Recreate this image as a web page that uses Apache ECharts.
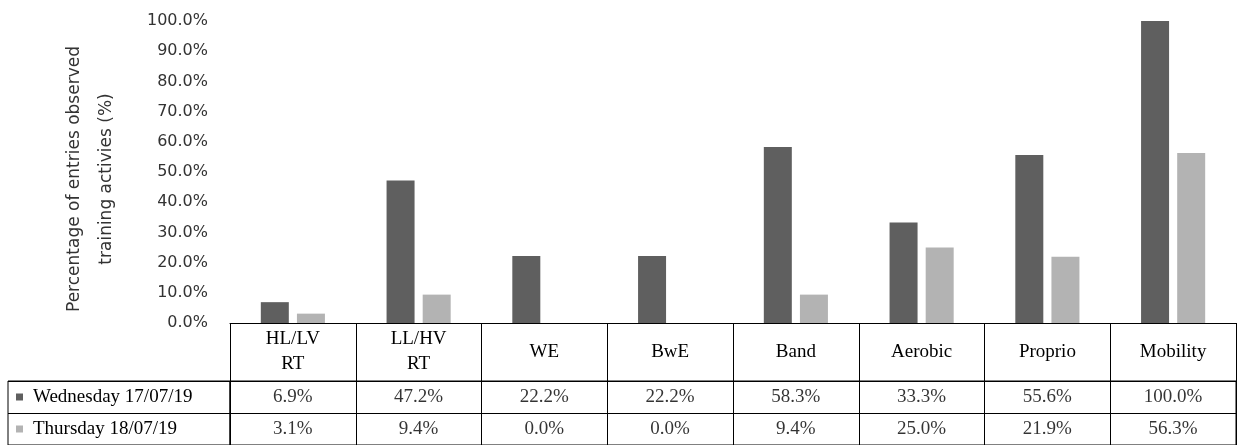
<!DOCTYPE html>
<html>
<head>
<meta charset="utf-8">
<script src="https://cdn.jsdelivr.net/npm/echarts@6/dist/echarts.min.js"></script>
<style>
  html, body { margin: 0; padding: 0; background: #fff; }
  #main { width: 1237px; height: 445px; }
</style>
</head>
<body>
<div id="main"></div>
<script>
var categories = ['HL/LV\nRT', 'LL/HV\nRT', 'WE', 'BwE', 'Band', 'Aerobic', 'Proprio', 'Mobility'];
var rowNames = ['Wednesday 17/07/19', 'Thursday 18/07/19'];
var wednesday = [6.9, 47.2, 22.2, 22.2, 58.3, 33.3, 55.6, 100.0];
var thursday = [3.1, 9.4, 0.0, 0.0, 9.4, 25.0, 21.9, 56.3];

var darkColor = '#5f5f5f';
var lightColor = '#b3b3b3';
var serif = 'Liberation Serif';

var myChart = echarts.init(document.getElementById('main'));

// table cells built from the same arrays
var cells = [];
wednesday.forEach(function (v, i) { cells.push([i, 0, v]); });
thursday.forEach(function (v, i) { cells.push([i, 1, v]); });

var option = {
    animation: false,
    grid: [
        { left: 230, right: 1, top: 21, bottom: 122 },
        { left: 230, right: 1, top: 381, bottom: 0, show: true, borderColor: '#000', borderWidth: 1 },
        { left: 8, width: 222, top: 381, bottom: 0, show: true, borderColor: '#000', borderWidth: 1 }
    ],
    xAxis: [
        {
            type: 'category', gridIndex: 0, data: categories,
            axisLine: { lineStyle: { color: '#000', width: 1 } },
            axisTick: { show: false },
            axisLabel: { show: false }
        },
        {
            type: 'category', gridIndex: 1, data: categories, position: 'top',
            axisLine: { lineStyle: { color: '#000', width: 1 } },
            axisTick: { show: true, length: 58, lineStyle: { color: '#000' } },
            axisLabel: {
                margin: 29, verticalAlign: 'middle', color: '#000',
                fontFamily: serif, fontSize: 19, lineHeight: 25,
                formatter: function (v) { return v; }
            },
            splitLine: { show: true, lineStyle: { color: '#000' } }
        }
    ],
    yAxis: [
        {
            type: 'value', gridIndex: 0, min: 0, max: 100, interval: 10,
            axisLine: { show: false },
            axisTick: { show: false },
            splitLine: { show: false },
            axisLabel: {
                margin: 22, color: '#333', fontFamily: 'DejaVu Sans', fontSize: 16,
                formatter: function (v) { return v.toFixed(1) + '%'; }
            },
            name: 'Percentage of entries observed\ntraining activies (%)',
            nameLocation: 'middle', nameGap: 107,
            nameTextStyle: {
                color: '#333', fontFamily: 'DejaVu Sans', fontSize: 17, lineHeight: 32,
                padding: [0, 14, 0, 0]
            }
        },
        {
            type: 'category', gridIndex: 1, data: rowNames, inverse: true,
            axisLine: { show: false },
            axisTick: { show: true, length: 222, lineStyle: { color: '#000' } },
            splitLine: { show: true, lineStyle: { color: '#000' } },
            axisLabel: {
                align: 'left', margin: 214,
                formatter: function (v, i) {
                    return (i === 0 ? '{a|}' : '{b|}') + '{s|}{t|' + v + '}';
                },
                rich: {
                    a: { width: 7, height: 7, backgroundColor: darkColor },
                    b: { width: 7, height: 7, backgroundColor: lightColor },
                    s: { width: 10 },
                    t: { color: '#000', fontFamily: serif, fontSize: 19 }
                }
            }
        }
    ],
    series: [
        {
            name: rowNames[0], type: 'bar', xAxisIndex: 0, yAxisIndex: 0,
            data: wednesday, barWidth: 28, barGap: '29%',
            itemStyle: { color: darkColor }
        },
        {
            name: rowNames[1], type: 'bar', xAxisIndex: 0, yAxisIndex: 0,
            data: thursday, barWidth: 28, barGap: '29%',
            itemStyle: { color: lightColor }
        },
        {
            type: 'scatter', xAxisIndex: 1, yAxisIndex: 1,
            data: cells, symbolSize: 0, silent: true,
            label: {
                show: true, position: 'inside', color: '#000',
                fontFamily: serif, fontSize: 19,
                formatter: function (p) { return p.value[2].toFixed(1) + '%'; }
            }
        }
    ]
};

myChart.setOption(option);
</script>
</body>
</html>
